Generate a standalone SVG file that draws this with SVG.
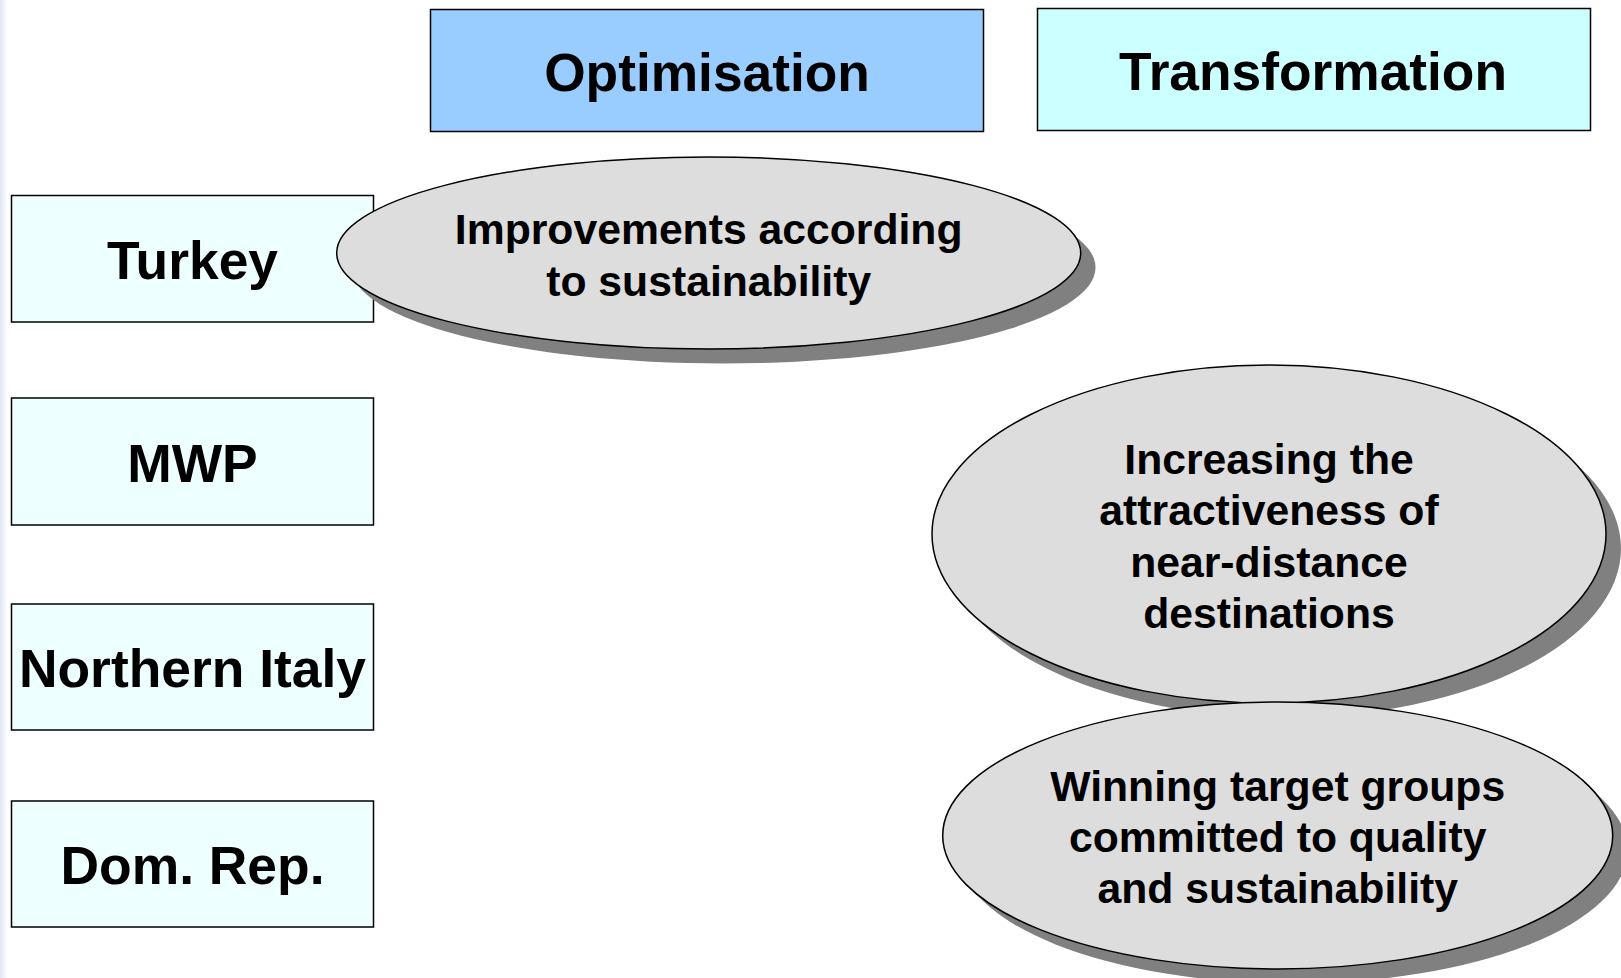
<svg xmlns="http://www.w3.org/2000/svg" width="1621" height="978" viewBox="0 0 1621 978">
  <defs>
    <linearGradient id="edgeFade" x1="0" y1="0" x2="1" y2="0">
      <stop offset="0" stop-color="#dfe7f1"/>
      <stop offset="1" stop-color="#ffffff"/>
    </linearGradient>
  </defs>
  <style>
    .box { stroke: #000; stroke-width: 1.5; }
    .phase-opt { fill: #99ccff; }
    .phase-trans { fill: #ccffff; }
    .region { fill: #eeffff; }
    .oval { fill: #dddddd; stroke: #000; stroke-width: 1.5; }
    .shadow { fill: #808080; }
    text { font-family: "Liberation Sans", Arial, sans-serif; font-weight: bold; fill: #000; text-anchor: middle; }
    .head { font-size: 53.3px; }
    .label { font-size: 53.4px; }
    .goal { font-size: 42.7px; }
  </style>

  <rect x="0" y="0" width="1621" height="978" fill="#ffffff"/>
  <rect x="0" y="0" width="8" height="978" fill="url(#edgeFade)"/>

  <!-- phase headers -->
  <g id="optimisation">
    <rect class="box phase-opt" x="430.5" y="9.5" width="553" height="122"/>
    <text class="head" x="707" y="91">Optimisation</text>
  </g>
  <g id="transformation">
    <rect class="box phase-trans" x="1037.5" y="8.5" width="553" height="122"/>
    <text class="head" x="1313" y="90">Transformation</text>
  </g>

  <!-- destination regions -->
  <g id="turkey">
    <rect class="box region" x="11.5" y="195.5" width="362" height="126.5"/>
    <text class="label" x="192.5" y="279">Turkey</text>
  </g>
  <g id="mwp">
    <rect class="box region" x="11.5" y="398" width="362" height="127"/>
    <text class="label" x="192.5" y="482">MWP</text>
  </g>
  <g id="northern-italy">
    <rect class="box region" x="11.5" y="604" width="362" height="126"/>
    <text class="label" x="192.5" y="687">Northern Italy</text>
  </g>
  <g id="dom-rep">
    <rect class="box region" x="11.5" y="801" width="362" height="126"/>
    <text class="label" x="192.5" y="884">Dom. Rep.</text>
  </g>

  <!-- goal ovals with drop shadows -->
  <g id="goal-sustainability">
    <ellipse class="shadow" cx="723.5" cy="267.5" rx="372" ry="96"/>
    <ellipse class="oval" cx="708.7" cy="253" rx="372" ry="96"/>
    <text class="goal" x="708.7" y="244">Improvements according</text>
    <text class="goal" x="708.7" y="296">to sustainability</text>
  </g>
  <g id="goal-near-distance">
    <ellipse class="shadow" cx="1284" cy="548.5" rx="337" ry="169"/>
    <ellipse class="oval" cx="1269" cy="534" rx="337" ry="169"/>
    <text class="goal" x="1269" y="473.5">Increasing the</text>
    <text class="goal" x="1269" y="525">attractiveness of</text>
    <text class="goal" x="1269" y="576.5">near-distance</text>
    <text class="goal" x="1269" y="628">destinations</text>
  </g>
  <g id="goal-target-groups">
    <ellipse class="shadow" cx="1292.5" cy="850" rx="335" ry="133.5"/>
    <ellipse class="oval" cx="1277.7" cy="835.5" rx="335" ry="133.5"/>
    <text class="goal" x="1277.7" y="801">Winning target groups</text>
    <text class="goal" x="1277.7" y="852">committed to quality</text>
    <text class="goal" x="1277.7" y="903">and sustainability</text>
  </g>
</svg>
